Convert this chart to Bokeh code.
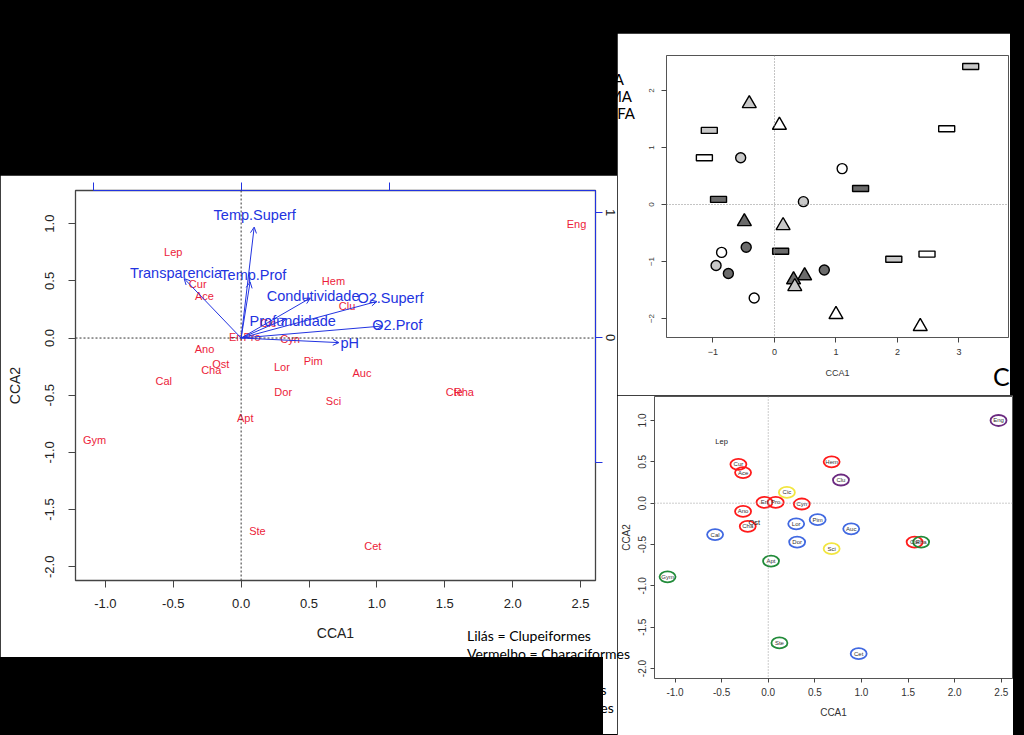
from bokeh.plotting import figure
from bokeh.models import (ColumnDataSource, Range1d, LinearAxis, FixedTicker, Span,
                          Arrow, OpenHead, Spacer, Div, NumeralTickFormatter)
from bokeh.layouts import row, column
from bokeh.embed import file_html
from bokeh.resources import INLINE
from bokeh.core.properties import value

# ---------------- data ----------------
species = ["Eng", "Lep", "Cur", "Ace", "Hem", "Clu", "Cic", "Eri", "Pro", "Cyn", "Ano", "Ost", "Cha",
           "Cal", "Lor", "Pim", "Auc", "Dor", "Sci", "Cte", "Rha", "Apt", "Gym", "Ste", "Cet"]
sp_cca1 = [2.47, -0.50, -0.32, -0.27, 0.68, 0.78, 0.20, -0.04, 0.08, 0.36, -0.27, -0.15, -0.22,
           -0.57, 0.30, 0.53, 0.89, 0.31, 0.68, 1.57, 1.64, 0.03, -1.08, 0.12, 0.97]
sp_cca2 = [1.00, 0.75, 0.47, 0.37, 0.50, 0.28, 0.13, 0.01, 0.01, -0.01, -0.10, -0.23, -0.28,
           -0.38, -0.25, -0.20, -0.31, -0.47, -0.55, -0.47, -0.47, -0.70, -0.89, -1.69, -1.82]
sp_ordem = ["Clupeiformes", "", "Characiformes", "Characiformes", "Characiformes", "Clupeiformes",
            "Perciformes", "Characiformes", "Characiformes", "Characiformes", "Characiformes", "",
            "Characiformes", "Siluriformes", "Siluriformes", "Siluriformes", "Siluriformes",
            "Siluriformes", "Perciformes", "Characiformes", "Gymnotiformes", "Gymnotiformes",
            "Gymnotiformes", "Gymnotiformes", "Siluriformes"]

env_names = ["Temp.Superf", "Temp.Prof", "Transparencia", "Condutividade", "O2.Superf",
             "Profundidade", "O2.Prof", "pH"]
env_cca1 = [0.096, 0.066, -0.42, 0.51, 1.00, 0.33, 1.04, 0.72]
env_cca2 = [0.97, 0.49, 0.52, 0.35, 0.32, 0.17, 0.105, -0.04]
env_lab_cca1 = [0.10, 0.09, -0.48, 0.53, 1.10, 0.38, 1.15, 0.80]
env_lab_cca2 = [1.08, 0.55, 0.57, 0.37, 0.35, 0.15, 0.11, -0.04]

site_cca1 = [3.19, -0.41, 0.08, -1.06, 2.80, -1.14, -0.55, 1.10, 1.40, -0.91, 0.47, -0.49, 0.14,
             -0.46, -0.86, 0.10, 1.94, 2.48, -0.95, -0.75, 0.81, 0.49, 0.31, 0.33, -0.33, 1.00, 2.37]
site_cca2 = [2.42, 1.77, 1.39, 1.30, 1.33, 0.82, 0.82, 0.63, 0.28, 0.09, 0.05, -0.30, -0.37,
             -0.75, -0.84, -0.82, -0.96, -0.87, -1.07, -1.21, -1.15, -1.25, -1.32, -1.44, -1.64, -1.93, -2.14]
site_tipo = ["ret", "tri", "tri", "ret", "ret", "ret", "cir", "cir", "ret", "ret", "cir", "tri", "tri",
             "cir", "cir", "ret", "ret", "ret", "cir", "cir", "cir", "tri", "tri", "tri", "cir", "tri", "tri"]
site_fase = ["MA", "MA", "A", "MA", "A", "A", "MA", "A", "FA", "FA", "MA", "FA", "MA",
             "FA", "A", "FA", "MA", "A", "MA", "FA", "FA", "FA", "FA", "MA", "A", "A", "A"]

legend_lines = ["Lilás = Clupeiformes", "Vermelho = Characiformes", "Azul = Siluriformes",
                "Amarelo = Perciformes", "Verde = Gymnotiformes"]
fase_labels = ["A", "MA", "FA"]
panel_letter = "C"

# ---------------- styles ----------------
FONT = "Liberation Sans"
BLUE = "#2233e0"
RED = "#ec1c3a"
ORDEM_COR = {"Clupeiformes": "#6b2a80", "Characiformes": "#ff1a1a", "Siluriformes": "#4169e1",
             "Perciformes": "#f2e640", "Gymnotiformes": "#228b3a"}
FASE_COR = {"A": "#ffffff", "MA": "#c8c8c8", "FA": "#6b6b6b"}


def style_axes(ax, size, color="#222", tick=7, standoff=8):
    ax.axis_line_color = None
    ax.major_tick_line_color = "#444"
    ax.major_tick_out = tick
    ax.major_tick_in = 0
    ax.minor_tick_line_color = None
    ax.major_label_text_font = FONT
    ax.major_label_text_font_size = size
    ax.major_label_text_color = color
    ax.major_label_standoff = standoff
    ax.axis_label_text_font = FONT
    ax.axis_label_text_font_style = "normal"
    ax.axis_label_text_color = color


# ---------------- left panel (biplot) ----------------
left = figure(width=617, height=482, x_range=Range1d(-1.22, 2.61), y_range=Range1d(-2.12, 1.29),
              output_backend="svg", toolbar_location=None,
              min_border_left=75, min_border_right=22, min_border_top=15, min_border_bottom=77,
              background_fill_color="white", border_fill_color="white",
              outline_line_color="#444", outline_line_width=1.3,
              x_axis_label="CCA1", y_axis_label="CCA2")
left.grid.visible = False
left.xaxis.ticker = FixedTicker(ticks=[-1, -0.5, 0, 0.5, 1, 1.5, 2, 2.5])
left.yaxis.ticker = FixedTicker(ticks=[-2, -1.5, -1, -0.5, 0, 0.5, 1])
left.xaxis.formatter = NumeralTickFormatter(format="0.0")
left.yaxis.formatter = NumeralTickFormatter(format="0.0")
style_axes(left.xaxis[0], "13px", standoff=11)
style_axes(left.yaxis[0], "13px", standoff=14)
left.yaxis.major_label_orientation = "vertical"
left.xaxis.axis_label_text_font_size = "14px"
left.yaxis.axis_label_text_font_size = "14px"
left.xaxis.axis_label_standoff = 14
left.yaxis.axis_label_standoff = 20

left.extra_x_ranges = {"env": Range1d(-1.118, 2.384)}
left.extra_y_ranges = {"envy": Range1d(-1.944, 1.176)}
top_ax = LinearAxis(x_range_name="env", ticker=FixedTicker(ticks=[-1, 0, 1]), bounds=(-1, 2.384),
                    axis_line_color=BLUE, major_tick_line_color=BLUE, major_tick_out=8, major_tick_in=0,
                    minor_tick_line_color=None, major_label_text_font_size="1px",
                    major_label_text_alpha=0, major_label_standoff=0)
left.add_layout(top_ax, "above")
right_ax = LinearAxis(y_range_name="envy", ticker=FixedTicker(ticks=[-1, 0, 1]), bounds=(-1, 1.176),
                      major_label_overrides={-1: ""})
style_axes(right_ax, "13px", tick=7, standoff=3)
right_ax.axis_line_color = BLUE
right_ax.major_tick_line_color = BLUE
right_ax.major_label_orientation = "vertical"
left.add_layout(right_ax, "right")

left.add_layout(Span(location=0, dimension="width", line_dash="2 2", line_color="#333", line_width=1))
left.add_layout(Span(location=0, dimension="height", line_dash="2 2", line_color="#333", line_width=1))

left.text(x=sp_cca1, y=sp_cca2, text=species, text_color=RED, text_font=value(FONT),
          text_font_size="11px", text_align="center", text_baseline="middle")

env_src = ColumnDataSource(dict(x0=[0] * len(env_names), y0=[0] * len(env_names), x1=env_cca1, y1=env_cca2))
left.add_layout(Arrow(end=OpenHead(size=6, line_color=BLUE, line_width=1), x_start="x0", y_start="y0",
                      x_end="x1", y_end="y1", source=env_src, line_color=BLUE, line_width=1))
left.text(x=env_lab_cca1, y=env_lab_cca2, text=env_names, text_color=BLUE, text_font=value(FONT),
          text_font_size="14.5px", text_align="center", text_baseline="middle")

# ---------------- panel B (sites) ----------------
B = figure(width=393, height=362, x_range=Range1d(-1.756, 3.805), y_range=Range1d(-2.333, 2.614),
           output_backend="svg", toolbar_location=None,
           min_border_left=49, min_border_right=2, min_border_top=22, min_border_bottom=58,
           background_fill_color="white", border_fill_color="white",
           outline_line_color="#555", outline_line_width=1, x_axis_label="CCA1")
B.grid.visible = False
B.xaxis.ticker = FixedTicker(ticks=[-1, 0, 1, 2, 3])
B.yaxis.ticker = FixedTicker(ticks=[-2, -1, 0, 1, 2])
style_axes(B.xaxis[0], "9px", color="#333", tick=5, standoff=6)
style_axes(B.yaxis[0], "8px", color="#333", tick=5, standoff=7)
B.yaxis.major_label_orientation = "vertical"
B.xaxis.axis_label_text_font_size = "9px"
B.xaxis.axis_label_standoff = 10
B.add_layout(Span(location=0, dimension="width", line_dash="1 2", line_color="#888", line_width=1))
B.add_layout(Span(location=0, dimension="height", line_dash="1 2", line_color="#888", line_width=1))


def subset(kind):
    idx = [i for i, t in enumerate(site_tipo) if t == kind]
    return ColumnDataSource(dict(x=[site_cca1[i] for i in idx], y=[site_cca2[i] for i in idx],
                                 fill=[FASE_COR[site_fase[i]] for i in idx]))


B.rect(x="x", y="y", width=16, height=6, width_units="screen", height_units="screen",
       fill_color="fill", line_color="black", line_width=1.4, source=subset("ret"))
B.scatter(x="x", y="y", marker="circle", size=10, fill_color="fill", line_color="black",
          line_width=1.4, source=subset("cir"))
B.scatter(x="x", y="y", marker="triangle", size=14, fill_color="fill", line_color="black",
          line_width=1.4, source=subset("tri"))

# ---------------- panel C (species by order) ----------------
C = figure(width=396, height=340, x_range=Range1d(-1.22, 2.62), y_range=Range1d(-2.12, 1.29),
           output_backend="svg", toolbar_location=None,
           min_border_left=36, min_border_right=1, min_border_top=1, min_border_bottom=57,
           background_fill_color="white", border_fill_color="white",
           outline_line_color="#555", outline_line_width=1,
           x_axis_label="CCA1", y_axis_label="CCA2")
C.grid.visible = False
C.xaxis.ticker = FixedTicker(ticks=[-1, -0.5, 0, 0.5, 1, 1.5, 2, 2.5])
C.yaxis.ticker = FixedTicker(ticks=[-2, -1.5, -1, -0.5, 0, 0.5, 1])
C.xaxis.formatter = NumeralTickFormatter(format="0.0")
C.yaxis.formatter = NumeralTickFormatter(format="0.0")
style_axes(C.xaxis[0], "10px", color="#333", tick=4, standoff=5)
style_axes(C.yaxis[0], "10px", color="#333", tick=4, standoff=4)
C.yaxis.major_label_orientation = "vertical"
C.xaxis.axis_label_text_font_size = "10px"
C.yaxis.axis_label_text_font_size = "10px"
C.xaxis.axis_label_standoff = 8
C.yaxis.axis_label_standoff = 4
C.add_layout(Span(location=0, dimension="width", line_dash="1 2", line_color="#999", line_width=1))
C.add_layout(Span(location=0, dimension="height", line_dash="1 2", line_color="#999", line_width=1))

idx_o = [i for i, o in enumerate(sp_ordem) if o]
idx_n = [i for i, o in enumerate(sp_ordem) if not o]
C.ellipse(x=[sp_cca1[i] for i in idx_o], y=[sp_cca2[i] for i in idx_o], width=16, height=11,
          width_units="screen", height_units="screen", fill_color=None,
          line_color=[ORDEM_COR[sp_ordem[i]] for i in idx_o], line_width=1.8)
C.text(x=[sp_cca1[i] for i in idx_o], y=[sp_cca2[i] for i in idx_o], text=[species[i] for i in idx_o],
       text_color="#333", text_font=value(FONT), text_font_size="6px",
       text_align="center", text_baseline="middle")
C.text(x=[sp_cca1[i] for i in idx_n], y=[sp_cca2[i] for i in idx_n], text=[species[i] for i in idx_n],
       text_color="#222", text_font=value(FONT), text_font_size="7.5px",
       text_align="center", text_baseline="middle")

# ---------------- free texts of the collage (overlay) ----------------
spans = []
for k, line in enumerate(legend_lines):
    spans.append(f'<span style="position:absolute;left:467px;top:{627 + 18 * k}px;font-size:14px;'
                 f'line-height:18px;white-space:nowrap;">{line}</span>')
for lab, right_px, top_px in zip(fase_labels, [400, 392, 389], [72, 89, 106]):
    spans.append(f'<span style="position:absolute;right:{right_px}px;top:{top_px}px;font-size:15px;'
                 f'line-height:15px;white-space:nowrap;">{lab}</span>')
spans.append(f'<span style="position:absolute;left:993px;top:364px;font-size:25px;line-height:25px;">'
             f'{panel_letter}</span>')
overlay_html = ('<div style="position:absolute;left:0;top:0;width:1024px;height:735px;'
                'font-family:Lato,sans-serif;color:#000;">' + "".join(spans) + '</div>')
overlay = Div(text=overlay_html, width=1, height=1, margin=0,
              styles={"position": "absolute", "left": "0px", "top": "0px", "z-index": "20",
                      "overflow": "visible", "pointer-events": "none"})

# ---------------- layout ----------------
BLACK = {"background-color": "black"}
WHITE = {"background-color": "white"}
left_col = column(Spacer(width=617, height=175, styles=BLACK), left,
                  row(Spacer(width=603, height=77, styles=BLACK), Spacer(width=14, height=77, styles=WHITE)),
                  overlay)
right_col = column(Spacer(width=407, height=33, styles=BLACK),
                   row(B, Spacer(width=14, height=362, styles=BLACK)),
                   row(C, Spacer(width=11, height=340, styles=BLACK)))
p = row(left_col, right_col, styles=BLACK)

open("out.html", "w").write(file_html(p, INLINE))
